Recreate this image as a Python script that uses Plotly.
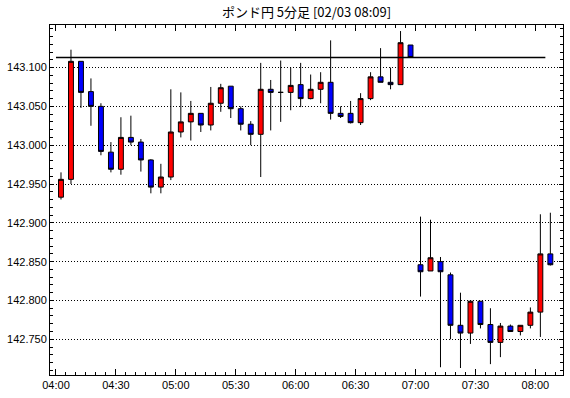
import plotly.graph_objects as go
import pandas as pd

# ---- data ----
start_time = "2024-02-03 04:00"
n_bars = 50
opens = [142.933, 142.956, 143.108, 143.069, 143.050, 142.991, 142.969, 143.010, 143.004, 142.981,
         142.946, 142.959, 143.017, 143.030, 143.041, 143.026, 143.054, 143.076, 143.047, 143.027,
         143.014, 143.072, 143.068, 143.068, 143.078, 143.060, 143.072, 143.081, 143.041, 143.041,
         143.029, 143.060, 143.088, 143.081, 143.078, 143.129, 142.846, 142.838, 142.850, 142.833,
         142.768, 142.758, 142.799, 142.769, 142.746, 142.767, 142.760, 142.768, 142.785, 142.860]
highs = [142.965, 143.123, 143.108, 143.086, 143.054, 143.004, 143.036, 143.038, 143.008, 142.982,
         142.976, 143.072, 143.068, 143.057, 143.041, 143.075, 143.079, 143.076, 143.050, 143.031,
         143.106, 143.084, 143.109, 143.100, 143.106, 143.091, 143.094, 143.135, 143.050, 143.057,
         143.067, 143.094, 143.125, 143.100, 143.147, 143.129, 142.908, 142.904, 142.856, 142.836,
         142.810, 142.799, 142.799, 142.790, 142.771, 142.769, 142.768, 142.791, 142.911, 142.913]
lows = [142.930, 142.950, 143.048, 143.025, 142.987, 142.965, 142.962, 143.000, 142.966, 142.938,
        142.938, 142.955, 143.010, 143.006, 143.017, 143.019, 143.043, 143.035, 143.019, 143.000,
        142.959, 143.019, 143.030, 143.045, 143.049, 143.059, 143.054, 143.033, 143.035, 143.028,
        143.026, 143.058, 143.081, 143.072, 143.078, 143.113, 142.805, 142.838, 142.714, 142.750,
        142.713, 142.744, 142.764, 142.718, 142.727, 142.760, 142.755, 142.764, 142.753, 142.845]
closes = [142.956, 143.108, 143.068, 143.050, 142.992, 142.969, 143.010, 143.004, 142.981, 142.946,
          142.959, 143.017, 143.030, 143.041, 143.026, 143.054, 143.074, 143.047, 143.027, 143.014,
          143.072, 143.068, 143.068, 143.077, 143.060, 143.072, 143.081, 143.041, 143.037, 143.029,
          143.060, 143.088, 143.081, 143.078, 143.132, 143.113, 142.837, 142.855, 142.837, 142.768,
          142.758, 142.799, 142.769, 142.746, 142.767, 142.760, 142.768, 142.785, 142.860, 142.846]
ref_line_value = 143.113
ref_line_times = ["2024-02-03 04:00", "2024-02-03 08:05"]
y_tick_vals = [142.75, 142.80, 142.85, 142.90, 142.95, 143.00, 143.05, 143.10]
y_tick_text = ["142.750", "142.800", "142.850", "142.900", "142.950", "143.000", "143.050", "143.100"]
x_tick_text = ["04:00", "04:30", "05:00", "05:30", "06:00", "06:30", "07:00", "07:30", "08:00"]
title_text = "ポンド円 5分足 [02/03 08:09]"

times = pd.date_range(start_time, periods=n_bars, freq="5min")
x_tick_vals = [pd.Timestamp("2024-02-03 " + t) for t in x_tick_text]

fig = go.Figure()
fig.add_trace(go.Candlestick(
    x=times, open=opens, high=highs, low=lows, close=closes,
    xperiod=300000, xperiodalignment="middle",
    increasing=dict(fillcolor="#FF0000", line=dict(color="#000000", width=1)),
    decreasing=dict(fillcolor="#0000FF", line=dict(color="#000000", width=1)),
    whiskerwidth=0, showlegend=False, hoverinfo="skip",
))
fig.add_trace(go.Scatter(
    x=pd.to_datetime(ref_line_times), y=[ref_line_value, ref_line_value],
    mode="lines", line=dict(color="#000000", width=1.5), showlegend=False, hoverinfo="skip",
))

axis_font = dict(family="Liberation Sans, Arial, sans-serif", size=11, color="#000000")
fig.update_layout(
    width=570, height=398,
    margin=dict(l=50, r=7, t=25, b=23, autoexpand=False),
    paper_bgcolor="#FFFFFF", plot_bgcolor="#FFFFFF",
    boxgap=0.3,
    title=dict(text=title_text, x=0.5, xref="paper", xanchor="center",
               y=1 - 12 / 398, yref="container", yanchor="middle",
               font=dict(family="Noto Sans CJK JP, sans-serif", size=13, color="#000000")),
    xaxis=dict(
        type="date", automargin=False,
        range=[pd.Timestamp("2024-02-03 03:57"), pd.Timestamp("2024-02-03 08:13:50")],
        rangeslider=dict(visible=False),
        tickvals=x_tick_vals, ticktext=x_tick_text,
        ticks="inside", ticklen=6, tickcolor="#000000", tickwidth=1,
        minor=dict(ticks="inside", ticklen=3, dtick=300000, tick0=x_tick_vals[0],
                   tickcolor="#000000", showgrid=False),
        showline=True, linecolor="#000000", linewidth=1, mirror="ticks",
        showgrid=False, zeroline=False, tickfont=axis_font,
    ),
    yaxis=dict(
        automargin=False,
        range=[142.704, 143.1548],
        tickvals=y_tick_vals, ticktext=y_tick_text,
        ticks="inside", ticklen=4, tickcolor="#000000", tickwidth=1,
        minor=dict(ticks="inside", ticklen=3, dtick=0.01, tick0=142.70,
                   tickcolor="#000000", showgrid=False),
        showline=True, linecolor="#000000", linewidth=1, mirror="ticks",
        showgrid=True, gridcolor="#000000", gridwidth=1, griddash="1px,2px",
        zeroline=False, tickfont=axis_font,
    ),
)

fig.write_html("out.html", config={"displayModeBar": False, "staticPlot": True},
               post_script="document.body.style.margin='0';document.body.style.overflow='hidden';")
